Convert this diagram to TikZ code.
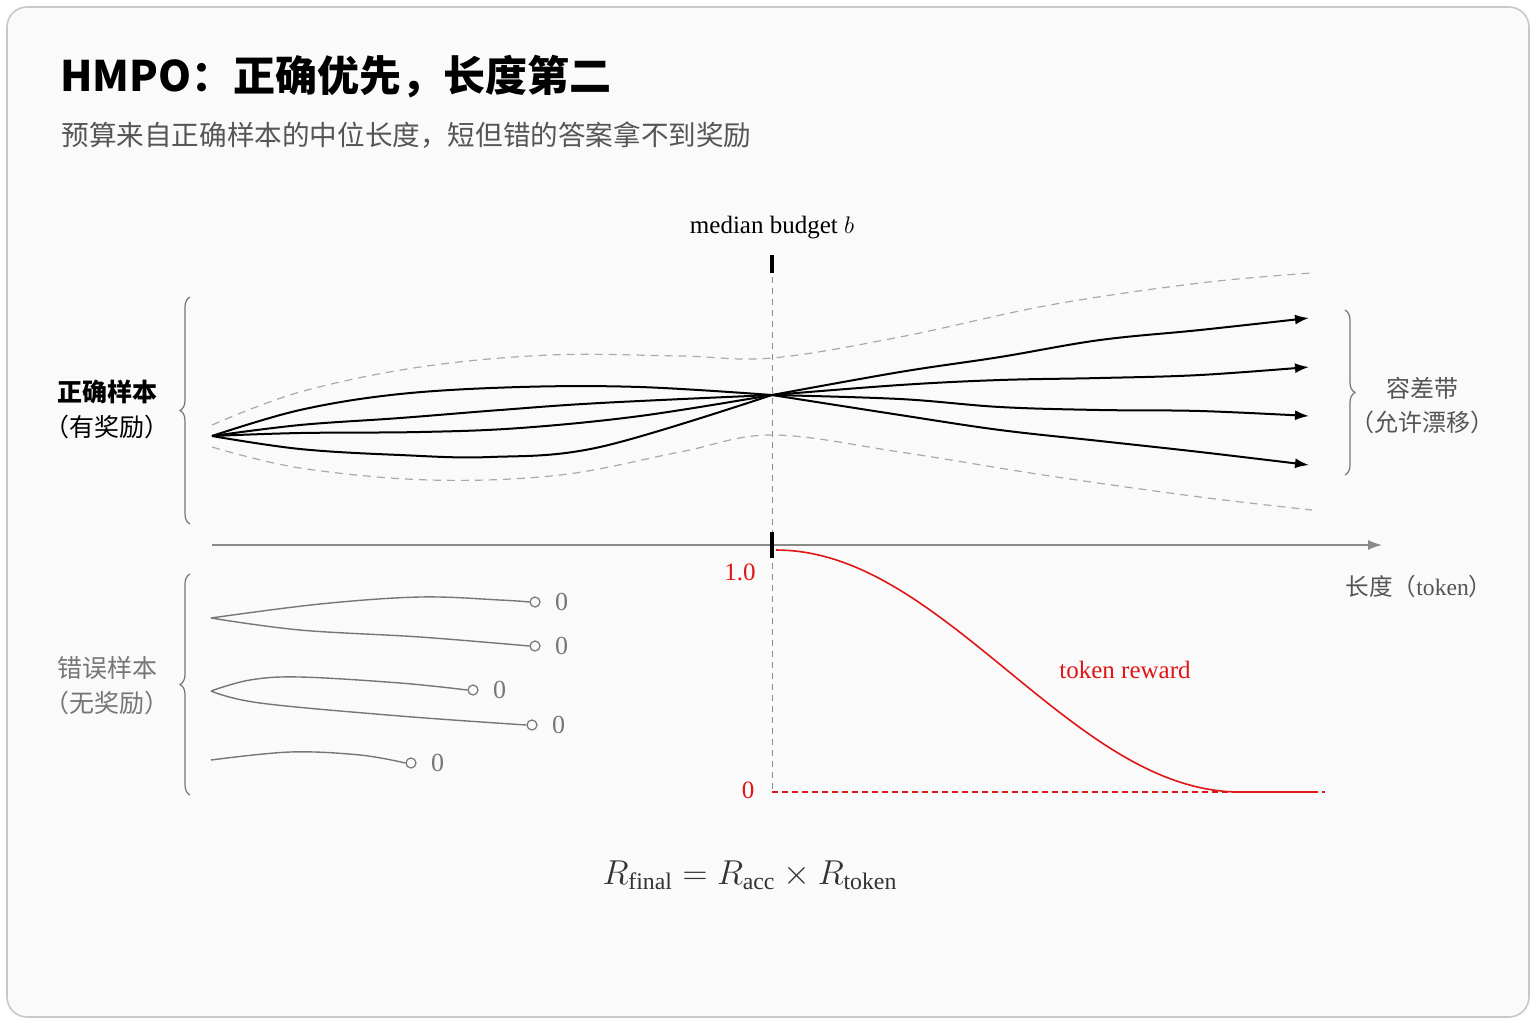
\documentclass[tikz,border=0pt]{standalone}
\usepackage{fontspec}
\setmainfont{Liberation Serif}
\newfontfamily\cjk{Noto Sans CJK SC}
\usetikzlibrary{arrows.meta, positioning, decorations.pathreplacing}

\definecolor{framegray}{HTML}{C8C8C8}
\definecolor{bggray}{HTML}{FAFAFA}
\definecolor{txtgray}{HTML}{555555}
\definecolor{axgray}{HTML}{8A8A8A}
\definecolor{dashgray}{HTML}{AAAAAA}
\definecolor{wronggray}{HTML}{767676}
\definecolor{rwdred}{HTML}{E01515}

\tikzset{
  good/.style={line width=1pt, black},
  goodarr/.style={good, -{Latex[length=7pt,width=5pt]}},
  band/.style={dashgray, line width=0.6pt, dash pattern=on 4pt off 3pt},
  bad/.style={wronggray, line width=0.7pt},
  endpt/.style={circle, draw=wronggray, fill=bggray, line width=0.6pt, inner sep=0pt, minimum size=5pt},
  zero/.style={wronggray, font=\fontsize{13}{14}\selectfont, inner sep=1pt},
  brace/.style={decorate, decoration={brace, amplitude=5pt}, wronggray, line width=0.6pt},
  tick/.style={black, line width=1.6pt},
}

\begin{document}
\begin{tikzpicture}[x=0.5pt, y=-0.5pt]
  \useasboundingbox (0,0) rectangle (1536,1024);
  \draw[framegray, fill=bggray, rounded corners=10pt, line width=0.8pt] (7,7) rectangle (1529,1017);

  % title
  \node[anchor=west, inner sep=0pt] (title) at (60,77)
    {\cjk\bfseries\fontsize{21}{25}\selectfont HMPO：正确优先，长度第二};
  \node[anchor=west, inner sep=0pt, txtgray] (sub) at (61,135)
    {\cjk\fontsize{13.8}{17}\selectfont 预算来自正确样本的中位长度，短但错的答案拿不到奖励};

  % budget line and axis
  \coordinate (btop) at (772,255);
  \coordinate (bbot) at (772,792);
  \node[font=\fontsize{12.5}{14}\selectfont] (blabel) at (772,228) {median budget $b$};
  \draw[axgray, line width=0.5pt, dash pattern=on 3pt off 2.5pt] (btop) -- (bbot);
  \draw[tick] (772,255) -- (772,273);
  \coordinate (ax0) at (212,545);
  \coordinate (ax1) at (1382,545);
  \draw[axgray, line width=0.8pt, -{Latex[length=7pt,width=5pt]}] (ax0) -- (ax1);
  \draw[tick] (772,532) -- (772,558);
  \node[txtgray, font=\fontsize{11.8}{14}\selectfont] (axlabel) at (1419,587)
    {{\cjk 长度（}token{\cjk ）}};

  % correct samples
  \coordinate (s) at (212,436);
  \coordinate (m) at (772,395);
  \coordinate (c1) at (1309,318);
  \coordinate (c2) at (1309,367);
  \coordinate (c3) at (1309,416);
  \coordinate (c4) at (1309,465);

  \draw[band] plot[smooth, tension=0.6] coordinates {(212,425) (300,392) (420,367) (550,355) (680,356) (772,358) (900,337) (1050,305) (1200,283) (1312,273)};
  \draw[band] plot[smooth, tension=0.6] coordinates {(212,447) (300,468) (430,480) (560,475) (680,452) (772,435) (900,452) (1050,476) (1200,497) (1312,510)};

  \draw[good] plot[smooth, tension=0.6] coordinates {(s) (300,410) (400,394) (520,387) (640,387) (m)};
  \draw[good] plot[smooth, tension=0.6] coordinates {(s) (300,425) (400,418) (500,410) (600,403) (m)};
  \draw[good] plot[smooth, tension=0.6] coordinates {(s) (300,433) (420,432) (520,428) (640,416) (m)};
  \draw[good] plot[smooth, tension=0.6] coordinates {(s) (300,449) (400,455) (490,457) (600,447) (m)};

  \draw[goodarr] plot[smooth, tension=0.6] coordinates {(m) (900,372) (1000,357) (1100,340) (1200,330) (c1)};
  \draw[goodarr] plot[smooth, tension=0.6] coordinates {(m) (900,385) (1000,380) (1100,378) (1200,375) (c2)};
  \draw[goodarr] plot[smooth, tension=0.6] coordinates {(m) (900,399) (1000,407) (1100,410) (1200,411) (c3)};
  \draw[goodarr] plot[smooth, tension=0.6] coordinates {(m) (900,415) (1000,430) (1100,441) (1200,452) (c4)};

  \draw[brace] (190,524) -- (190,297);
  \node[align=center, font=\fontsize{12.5}{17.5}\selectfont] (goodlabel) at (107,409)
    {\cjk\bfseries 正确样本\\\cjk（有奖励）};
  \draw[brace] (1345,310) -- (1345,475);
  \node[align=center, txtgray, font=\fontsize{12}{17}\selectfont] (bandlabel) at (1422,405)
    {\cjk 容差带\\\cjk（允许漂移）};

  % wrong samples
  \node[endpt] (w1) at (535,602) {};
  \node[endpt] (w2) at (535,646) {};
  \node[endpt] (w3) at (473,690) {};
  \node[endpt] (w4) at (532,725) {};
  \node[endpt] (w5) at (411,763) {};
  \foreach \w in {w1,w2,w3,w4,w5}
    \node[zero, right=6pt of \w] (\w z) {0};

  \draw[bad] plot[smooth, tension=0.6] coordinates {(211,618) (320,604) (420,597) (500,600) (w1.west)};
  \draw[bad] plot[smooth, tension=0.6] coordinates {(211,618) (300,630) (420,637) (w2.west)};
  \draw[bad] plot[smooth, tension=0.6] coordinates {(211,691) (250,680) (300,677) (400,683) (w3.west)};
  \draw[bad] plot[smooth, tension=0.6] coordinates {(211,691) (260,703) (400,716) (w4.west)};
  \draw[bad] plot[smooth, tension=0.6] coordinates {(211,760) (290,752) (360,755) (w5.west)};

  \draw[brace] (190,795) -- (190,574);
  \node[align=center, wronggray, font=\fontsize{12.5}{17.5}\selectfont] (badlabel) at (107,686)
    {\cjk 错误样本\\\cjk（无奖励）};

  % token reward
  \coordinate (r0) at (772,792);
  \coordinate (r1) at (1325,792);
  \draw[rwdred, line width=0.6pt, dash pattern=on 3pt off 2pt] (r0) -- (r1);
  \draw[rwdred, line width=0.8pt] plot[domain=0:1, samples=80, variable=\t]
    ({776+464*\t}, {550+242*(1-cos(180*\t))/2}) -- (1312,792);
  \node[rwdred, font=\fontsize{12.5}{14}\selectfont] (one) at (740,572) {1.0};
  \node[rwdred, font=\fontsize{12.5}{14}\selectfont] (nil) at (748,790) {0};
  \node[rwdred, font=\fontsize{12.5}{14}\selectfont] (rlabel) at (1125,670) {token reward};

  \node[black!80, font=\fontsize{17}{20}\selectfont] (formula) at (750,875)
    {$R_{\mathrm{final}} = R_{\mathrm{acc}} \times R_{\mathrm{token}}$};
\end{tikzpicture}
\end{document}
